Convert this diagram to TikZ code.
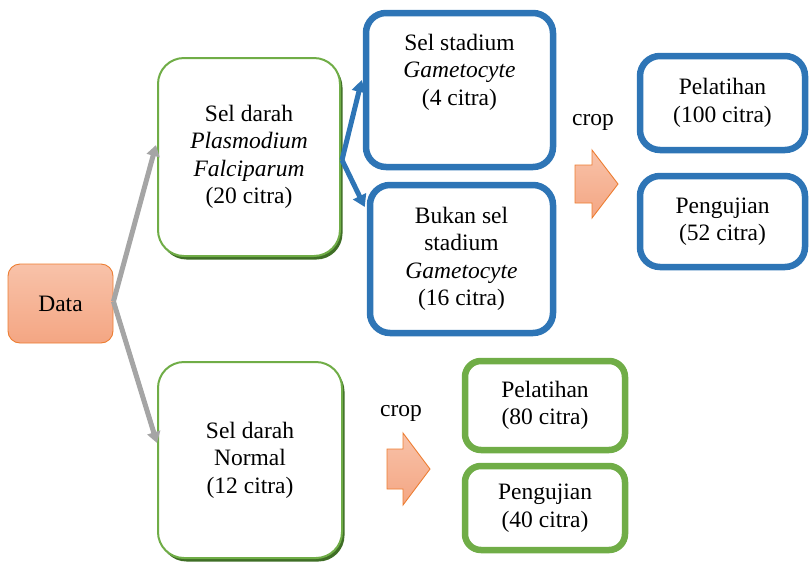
\documentclass[tikz,border=0pt]{standalone}
\usepackage{fontspec}
\setmainfont{Liberation Serif}
\usetikzlibrary{arrows.meta,calc,shadows}
\definecolor{boxblue}{HTML}{2E75B6}
\definecolor{boxgreen}{HTML}{70AD47}
\definecolor{shadegreen}{HTML}{3F6E26}
\definecolor{linegray}{HTML}{A5A5A5}
\definecolor{orangeedge}{HTML}{ED7D31}
\definecolor{salmontop}{HTML}{F8C2A9}
\definecolor{salmonbot}{HTML}{F4A683}
\tikzset{
  txt/.style={font=\fontsize{23.5}{27.5}\selectfont, align=center, inner sep=0pt},
  databox/.style={txt, draw=orangeedge, line width=0.9pt, rounded corners=12pt,
    top color=salmontop, bottom color=salmonbot},
  thinbox/.style={txt, draw=boxgreen, line width=2pt, fill=white, rounded corners=26pt,
    drop shadow={shadow xshift=2.5pt, shadow yshift=-3.5pt, fill=shadegreen, opacity=1}},
  bluebox/.style={txt, draw=boxblue, line width=6.5pt, fill=white, rounded corners=20pt},
  greenbox/.style={txt, draw=boxgreen, line width=6.5pt, fill=white, rounded corners=16pt},
  grayarrow/.style={draw=linegray, line width=5pt, -{Triangle[length=11pt,width=13pt]}},
  bluearrow/.style={draw=boxblue, line width=5pt, -{Triangle[length=12pt,width=14pt]}},
  croparrow/.style={draw=orangeedge, line width=0.9pt, line join=miter,
    top color=salmontop, bottom color=salmonbot},
}
\begin{document}
\begin{tikzpicture}[x=1pt,y=-1pt]
\useasboundingbox (0,0) rectangle (809,563);

% source node
\node[databox, minimum width=105pt, minimum height=79pt] (data) at (60.5,303.5) {Data};

% blood cell groups
\node[thinbox, minimum width=182pt, minimum height=198pt] (plas) at (249,157)
  {Sel darah\\ \textit{Plasmodium}\\ \textit{Falciparum}\\ (20 citra)};
\node[thinbox, minimum width=184pt, minimum height=196pt] (normal) at (250,460)
  {Sel darah\\ Normal\\ (12 citra)};

% gametocyte split
\node[bluebox, minimum width=187pt, minimum height=154pt] (gbox) at (459.5,90) {};
\node[txt] (gtext) at (459.5,72) {Sel stadium\\ \textit{Gametocyte}\\ (4 citra)};
\node[bluebox, minimum width=183pt, minimum height=148pt] (bbox) at (461.5,259)
  {Bukan sel\\ stadium\\ \textit{Gametocyte}\\ (16 citra)};

% training / testing sets
\node[bluebox, minimum width=165pt, minimum height=94pt] (p100) at (722.5,103)
  {Pelatihan\\ (100 citra)};
\node[bluebox, minimum width=165pt, minimum height=91pt] (p52) at (722.5,221.5)
  {Pengujian\\ (52 citra)};
\node[greenbox, minimum width=160pt, minimum height=89pt] (p80) at (545,405.5)
  {Pelatihan\\ (80 citra)};
\node[greenbox, minimum width=160pt, minimum height=84pt] (p40) at (545,508)
  {Pengujian\\ (40 citra)};

% crop labels
\node[txt] (crop1) at (593,122) {crop};
\node[txt] (crop2) at (401,413) {crop};

% connectors
\draw[grayarrow] ($(data.east)+(0,-2)$) -- ($(plas.west)+(-1,-12)$);
\draw[grayarrow] ($(data.east)+(0,-2)$) -- ($(normal.west)+(0,-17)$);
\draw[bluearrow] ($(plas.east)+(1,3)$) -- ($(gbox.west)+(-1,-10)$);
\draw[bluearrow] ($(plas.east)+(1,3)$) -- ($(bbox.west)+(-2,-52)$);

% crop block arrows
\draw[croparrow] (575,165) -- (592,165) -- (592,150) -- (618,184) -- (592,218)
  -- (592,203) -- (575,203) -- cycle;
\draw[croparrow] (387,449) -- (403,449) -- (403,433) -- (430,469) -- (403,505)
  -- (403,489) -- (387,489) -- cycle;
\end{tikzpicture}
\end{document}
